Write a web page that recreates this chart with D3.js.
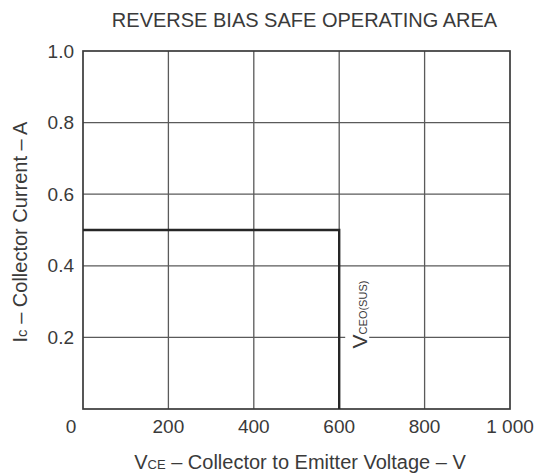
<!DOCTYPE html>
<html><head><meta charset="utf-8">
<script src="https://cdn.jsdelivr.net/npm/d3@7"></script>
<style>body{margin:0;background:#fff}svg{display:block}text{font-family:"Liberation Sans",Arial,sans-serif;fill:#3a3a3a}</style>
</head><body>
<script>
const title = "REVERSE BIAS SAFE OPERATING AREA";
const xTicks = [200, 400, 600, 800, 1000];
const xTickLabels = ["200", "400", "600", "800", "1 000"];
const yTicks = [0.2, 0.4, 0.6, 0.8, 1.0];
const yTickLabels = ["0.2", "0.4", "0.6", "0.8", "1.0"];
const soaV = [0, 600, 600];
const soaI = [0.5, 0.5, 0];

const W = 536, H = 475;
const m = {l: 83, r: 26, t: 51, b: 66};
const svg = d3.select("body").append("svg").attr("width", W).attr("height", H);
const x = d3.scaleLinear().domain([0, 1000]).range([m.l, W - m.r]);
const y = d3.scaleLinear().domain([0, 1.0]).range([H - m.b, m.t]);

// grid
const g = svg.append("g");
g.selectAll(".vx").data(xTicks.slice(0, -1)).join("line")
  .attr("x1", d => x(d)).attr("x2", d => x(d)).attr("y1", y(0)).attr("y2", y(1))
  .attr("stroke", "#5a5a5a").attr("stroke-width", 1.3);
g.selectAll(".hy").data(yTicks.slice(0, -1)).join("line")
  .attr("y1", d => y(d)).attr("y2", d => y(d)).attr("x1", x(0)).attr("x2", x(1000))
  .attr("stroke", "#5a5a5a").attr("stroke-width", 1.3);

// VCEO label with white background
const lx = x(600) + 28, ly = y(0.2) + 11;
svg.append("rect").attr("x", x(600) + 6).attr("y", y(0.2) - 4).attr("width", 24).attr("height", 8).attr("fill", "#fff");
const lab = svg.append("text").attr("transform", `translate(${lx},${ly}) rotate(-90)`)
  .attr("font-size", 21);
lab.append("tspan").text("V");
lab.append("tspan").attr("font-size", 11).text("CEO(SUS)");

// frame
svg.append("rect").attr("x", x(0)).attr("y", y(1)).attr("width", x(1000) - x(0)).attr("height", y(0) - y(1))
  .attr("fill", "none").attr("stroke", "#3a3a3a").attr("stroke-width", 1.7);

// SOA line
const pts = soaV.map((v, i) => [x(v), y(soaI[i])]);
svg.append("path").attr("d", d3.line()(pts)).attr("fill", "none").attr("stroke", "#262626").attr("stroke-width", 2.4);

// tick labels
svg.selectAll(".xt").data(xTicks).join("text")
  .attr("x", d => x(d)).attr("y", y(0) + 23.5).attr("text-anchor", "middle").attr("font-size", 19)
  .text((d, i) => xTickLabels[i]);
svg.append("text").attr("x", x(0) - 12).attr("y", y(0) + 23.5).attr("text-anchor", "middle").attr("font-size", 19).text("0");
svg.selectAll(".yt").data(yTicks).join("text")
  .attr("x", x(0) - 9).attr("y", d => y(d) + 6.5).attr("text-anchor", "end").attr("font-size", 19)
  .text((d, i) => yTickLabels[i]);

// title
svg.append("text").attr("x", 304.5).attr("y", 27).attr("text-anchor", "middle").attr("font-size", 20).text(title);

// x title
const xt = svg.append("text").attr("x", 300).attr("y", 469).attr("text-anchor", "middle").attr("font-size", 20);
xt.append("tspan").text("V");
xt.append("tspan").attr("font-size", 13).text("CE");
xt.append("tspan").text(" – Collector to Emitter Voltage – V");

// y title
const yt = svg.append("text").attr("transform", `translate(27,232) rotate(-90)`).attr("text-anchor", "middle").attr("font-size", 20);
yt.append("tspan").text("I");
yt.append("tspan").attr("font-size", 15).text("c");
yt.append("tspan").text(" – Collector Current – A");
</script>
</body></html>
